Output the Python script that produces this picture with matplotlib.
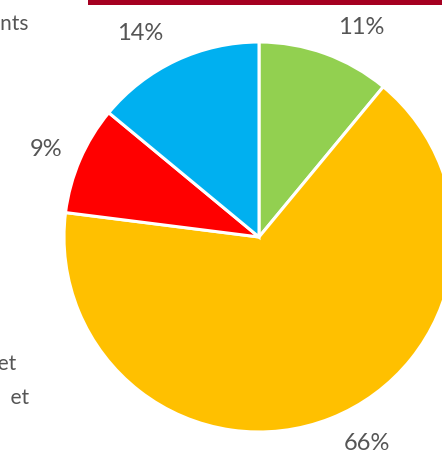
import matplotlib.pyplot as plt
from matplotlib.patches import Rectangle

# slice shares, clockwise from 12 o'clock
shares = [11, 66, 9, 14]
colors = ['#92D050', '#FFC000', '#FF0000', '#00B0F0']
# legend entries on the left, only their ends fit in the frame
legend_words = ['Équipements', 'Budget', 'Frais  et']

W, H = 442, 457
cx, cy, r = 259, 237, 195   # pie centre and radius in pixels

fig = plt.figure(figsize=(W / 100, H / 100), dpi=100)
ax = fig.add_axes([0, 0, 1, 1])
ax.axis('off')

wedges, _, pcts = ax.pie(shares, colors=colors, startangle=90, counterclock=False,
                         radius=1, autopct='%d%%', pctdistance=1.2,
                         wedgeprops=dict(edgecolor='white', linewidth=2.2),
                         textprops=dict(color='#555555', fontsize=17, family='Lato'))

ax.set_xlim(-cx / r, (W - cx) / r)
ax.set_ylim(-(H - cy) / r, cy / r)

# nudge the data labels to where they sit outside each slice (pixel centres)
label_px = [(361, 27), (367, 444), (46, 150), (140, 33)]
for t, (px, py) in zip(pcts, label_px):
    t.set_position(((px - cx) / r, (cy - py) / r))
    t.set_ha('center')
    t.set_va('center')

# clipped legend text at the left edge
legend_px = [(29, 22), (16, 364), (29, 398)]
for word, (px, py) in zip(legend_words, legend_px):
    fig.text(px / W, 1 - py / H, word, ha='right', va='center',
             color='#555555', fontsize=15, family='Lato')

# dark red rule along the top
fig.add_artist(Rectangle((88 / W, 1 - 5 / H), 1, 5 / H, transform=fig.transFigure,
                         color='#A50021', lw=0))

fig.savefig('out.png', dpi=100)
